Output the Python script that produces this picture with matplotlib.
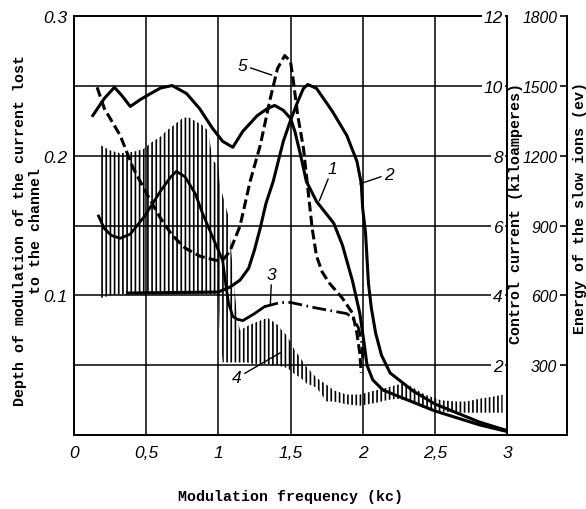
import matplotlib
matplotlib.use("Agg")
import matplotlib.pyplot as plt

# axes scales
freq_ticks = [0, 0.5, 1, 1.5, 2, 2.5, 3]
freq_tick_labels = ['0', '0,5', '1', '1,5', '2', '2,5', '3']
depth_ticks = [0.05, 0.1, 0.15, 0.2, 0.25, 0.3]
depth_tick_labels = ['', '0.1', '', '0.2', '', '0.3']
current_ticks = [2, 4, 6, 8, 10, 12]
current_tick_labels = ['2', '4', '6', '8', '10', '12']
energy_ticks = [300, 600, 900, 1200, 1500, 1800]
energy_tick_labels = ['300', '600', '900', '1200', '1500', '1800']

# curve 1 (kA)
c1_freq = [0.13, 0.21, 0.28, 0.33, 0.39, 0.46, 0.53, 0.60, 0.68, 0.78, 0.87, 0.96,
           1.03, 1.10, 1.17, 1.27, 1.34, 1.39, 1.45, 1.50, 1.53, 1.57, 1.61, 1.68,
           1.80, 1.86, 1.93, 1.98, 2.01, 2.03, 2.07, 2.14, 2.26, 2.50, 2.81, 2.99]
c1_current = [9.16, 9.65, 9.97, 9.74, 9.42, 9.62, 9.79, 9.95, 10.02, 9.79, 9.36, 8.79,
              8.42, 8.25, 8.71, 9.16, 9.36, 9.45, 9.31, 9.08, 8.71, 8.02, 7.27, 6.70,
              6.07, 5.44, 4.41, 3.49, 2.63, 2.00, 1.58, 1.29, 1.09, 0.69, 0.29, 0.11]

# curve 2 (kA)
c2_freq = [0.37, 1.00, 1.08, 1.15, 1.21, 1.25, 1.29, 1.33, 1.38, 1.45, 1.50, 1.55,
           1.59, 1.62, 1.68, 1.79, 1.89, 1.96, 1.99, 2.00, 2.02, 2.03, 2.04, 2.06,
           2.09, 2.13, 2.19, 2.35, 2.50, 2.81, 2.99]
c2_current = [4.07, 4.10, 4.24, 4.44, 4.78, 5.30, 5.93, 6.64, 7.27, 8.42, 9.02, 9.56,
              9.94, 10.05, 9.94, 9.28, 8.59, 7.85, 7.22, 6.50, 5.78, 5.07, 4.35, 3.64,
              2.92, 2.29, 1.78, 1.26, 0.89, 0.37, 0.14]

# curve 5 (kA), dashed
c5_freq = [0.16, 0.21, 0.32, 0.41, 0.51, 0.60, 0.68, 0.77, 0.87, 0.98, 1.03, 1.08,
           1.15, 1.22, 1.29, 1.36, 1.41, 1.46, 1.50, 1.52, 1.55, 1.59, 1.62, 1.65,
           1.68, 1.72, 1.77, 1.86, 1.93, 1.96, 1.98, 1.99]
c5_current = [9.97, 9.36, 8.59, 7.65, 6.87, 6.21, 5.73, 5.36, 5.13, 5.01, 5.01, 5.27,
              5.99, 7.27, 8.30, 9.65, 10.51, 10.88, 10.71, 10.14, 9.16, 8.22, 7.07, 5.93,
              5.13, 4.67, 4.35, 3.92, 3.49, 2.92, 2.35, 1.78]

# curve 3 (depth), solid part then dash-dot part
c3_freq = [0.17, 0.21, 0.26, 0.32, 0.39, 0.49, 0.60, 0.67, 0.71, 0.77, 0.84, 0.89,
           0.96, 1.01, 1.03, 1.05, 1.07, 1.10, 1.13, 1.17, 1.25, 1.32]
c3_depth = [0.157, 0.148, 0.143, 0.141, 0.144, 0.157, 0.175, 0.185, 0.189, 0.185, 0.173, 0.159,
            0.142, 0.130, 0.125, 0.109, 0.095, 0.085, 0.083, 0.082, 0.087, 0.092]
c3b_freq = [1.32, 1.43, 1.50, 1.68, 1.89, 1.93, 1.97, 1.995, 2.00]
c3b_depth = [0.092, 0.095, 0.095, 0.091, 0.087, 0.084, 0.077, 0.066, 0.055]

# curve 4 (depth), hatched band
c4_freq = [0.18, 0.25, 0.32, 0.41, 0.48, 0.54, 0.60, 0.64, 0.69, 0.75, 0.79, 0.84,
           0.89, 0.93, 0.96, 1.00, 1.01, 1.03, 1.07, 1.10, 1.13, 1.15, 1.20, 1.24,
           1.29, 1.34, 1.37, 1.41, 1.44, 1.48, 1.51, 1.57, 1.61, 1.68, 1.75, 1.80,
           1.89, 1.98, 2.09, 2.17, 2.24, 2.29, 2.35, 2.43, 2.54, 2.64, 2.72, 2.81,
           2.93, 2.97]
c4_top = [0.208, 0.204, 0.202, 0.203, 0.205, 0.210, 0.214, 0.218, 0.222, 0.227, 0.228, 0.225,
          0.222, 0.218, 0.197, 0.193, 0.180, 0.172, 0.157, 0.118, 0.085, 0.075, 0.078, 0.080,
          0.082, 0.084, 0.082, 0.079, 0.075, 0.071, 0.064, 0.055, 0.049, 0.041, 0.036, 0.032,
          0.029, 0.029, 0.032, 0.034, 0.036, 0.037, 0.034, 0.029, 0.025, 0.024, 0.024, 0.026,
          0.028, 0.029]
c4_bottom = [0.098, 0.100, 0.101, 0.101, 0.101, 0.101, 0.101, 0.101, 0.101, 0.101, 0.101, 0.101,
             0.101, 0.101, 0.101, 0.101, 0.077, 0.052, 0.052, 0.052, 0.052, 0.052, 0.052, 0.051,
             0.051, 0.051, 0.050, 0.050, 0.049, 0.048, 0.045, 0.041, 0.037, 0.034, 0.024, 0.024,
             0.022, 0.021, 0.023, 0.025, 0.026, 0.025, 0.023, 0.019, 0.017, 0.016, 0.016, 0.016,
             0.016, 0.016]

# curve numbers: label, text position, leader end (freq, depth)
curve_labels = ['5', '1', '2', '3', '4']
label_pos = [(1.17, 0.265), (1.79, 0.191), (2.18, 0.187), (1.37, 0.115), (1.13, 0.041)]
leader_end = [(1.37, 0.258), (1.70, 0.168), (1.98, 0.180), (1.36, 0.093), (1.43, 0.059)]

plt.rcParams['hatch.linewidth'] = 1.2
tick_font = dict(family=['Liberation Sans', 'DejaVu Sans'], style='italic', size=12.5)
label_font = dict(family=['Liberation Mono', 'DejaVu Sans Mono'], weight='bold', size=10.8)

fig = plt.figure(figsize=(5.86, 5.10), dpi=100)
ax = fig.add_axes([0.1263, 0.1451, 0.7389, 0.8206])

ax.set_xlim(0, 3)
ax.set_ylim(0, 0.3)
ax.set_xticks(freq_ticks)
ax.set_xticklabels(freq_tick_labels, **tick_font)
ax.set_yticks(depth_ticks)
ax.set_yticklabels(depth_tick_labels, **tick_font)
ax.tick_params(length=0)
ax.tick_params(axis='x', pad=7)
ax.tick_params(axis='y', pad=5)
ax.grid(True, color='black', lw=1.1)
for s in ax.spines.values():
    s.set_linewidth(1.4)

# control current axis, labels inside the frame
ax2 = ax.twinx()
ax2.set_ylim(0, 12)
ax2.yaxis.set_ticks_position('left')
ax2.spines['left'].set_position(('axes', 1.0))
for name in ['right', 'top', 'bottom']:
    ax2.spines[name].set_visible(False)
ax2.spines['left'].set_linewidth(1.4)
ax2.set_yticks(current_ticks)
ax2.set_yticklabels(current_tick_labels, **tick_font)
ax2.tick_params(length=0, pad=3)
for t in ax2.get_yticklabels():
    t.set_bbox(dict(facecolor='white', edgecolor='none', pad=1.5))

# energy axis
ax3 = ax.twinx()
ax3.set_ylim(0, 1800)
ax3.yaxis.set_ticks_position('left')
ax3.spines['left'].set_position(('axes', 1.1386))
ax3.spines['left'].set_linewidth(1.4)
for name in ['right', 'top']:
    ax3.spines[name].set_visible(False)
ax3.spines['bottom'].set_bounds(3, 3.416)
ax3.spines['bottom'].set_linewidth(1.4)
ax3.set_yticks(energy_ticks)
ax3.set_yticklabels(energy_tick_labels, **dict(tick_font, size=11.3))
ax3.tick_params(axis='y', length=5, width=1.2, pad=2)

# curves
ax.fill_between(c4_freq, c4_bottom, c4_top, facecolor='none', edgecolor='black',
                hatch='||||', linewidth=0)
ax.plot(c3_freq, c3_depth, color='black', lw=2.0)
ax.plot(c3b_freq, c3b_depth, color='black', lw=2.0, ls=(0, (5, 1.6, 0.6, 1.6)))
ax2.plot(c1_freq, c1_current, color='black', lw=2.2)
ax2.plot(c2_freq, c2_current, color='black', lw=2.2)
ax2.plot(c5_freq, c5_current, color='black', lw=2.2, ls=(0, (3.2, 1.4)))

for lab, pos, end in zip(curve_labels, label_pos, leader_end):
    ax.annotate(lab, xy=end, xytext=pos, ha='center', va='center',
                arrowprops=dict(arrowstyle='-', color='black', lw=1.0, shrinkA=0, shrinkB=0),
                **dict(tick_font, size=12.5))

ax.set_xlabel('Modulation frequency (kc)', **label_font)
ax.xaxis.set_label_coords(0.5, -0.129)
ax.set_ylabel('Depth of modulation of the current lost\nto the channel', **label_font)
ax.yaxis.set_label_coords(-0.072, 0.49)
fig.text(516 / 586, 1 - 213 / 510, 'Control current (kiloamperes)', rotation=90,
         ha='center', va='center', **label_font)
fig.text(580 / 586, 1 - 208 / 510, 'Energy of the slow ions (ev)', rotation=90,
         ha='center', va='center', **label_font)

fig.savefig('out.png', dpi=100)
